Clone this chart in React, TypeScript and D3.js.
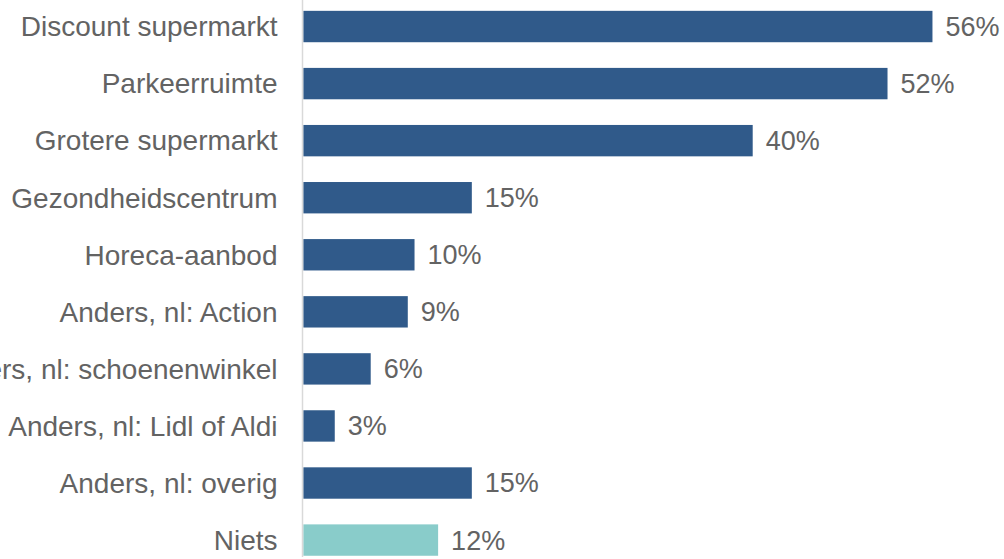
import React from "react";
import * as d3 from "d3";

const categories = [
  "Discount supermarkt",
  "Parkeerruimte",
  "Grotere supermarkt",
  "Gezondheidscentrum",
  "Horeca-aanbod",
  "Anders, nl: Action",
  "Anders, nl: schoenenwinkel",
  "Anders, nl: Lidl of Aldi",
  "Anders, nl: overig",
  "Niets",
];
const values = [56, 52, 40, 15, 9.9, 9.3, 6, 2.8, 15, 12];
const valueLabels = ["56%", "52%", "40%", "15%", "10%", "9%", "6%", "3%", "15%", "12%"];
const highlight = ["Niets"];

const W = 1004;
const H = 559;
const axisX = 302.5;
const barX0 = 303.3;
const FONT = "'Liberation Sans', Arial, Helvetica, sans-serif";
const TEXT = "#636363";
const DARK = "#305A8A";
const TEAL = "#89CCCA";

export default function App() {
  const x = d3.scaleLinear().domain([0, 40]).range([barX0, barX0 + 449.4]);
  const y = d3
    .scaleBand<string>()
    .domain(categories)
    .range([-2, 568.6])
    .paddingInner(0.45)
    .paddingOuter(0.225);

  return (
    <svg
      width={W}
      height={H}
      style={{ position: "absolute", left: 0, top: 0, background: "#fff" }}
      fontFamily={FONT}
    >
      {categories.map((c, i) => {
        const yc = (y(c) as number) + y.bandwidth() / 2;
        return (
          <g key={c}>
            <rect
              x={x(0)}
              y={y(c)}
              width={x(values[i]) - x(0)}
              height={y.bandwidth()}
              fill={highlight.includes(c) ? TEAL : DARK}
            />
            <text
              x={axisX - 25}
              y={yc}
              dy="0.35em"
              textAnchor="end"
              fontSize={28}
              fill={TEXT}
            >
              {c}
            </text>
            <text
              x={x(values[i]) + 13}
              y={yc}
              dy="0.35em"
              textAnchor="start"
              fontSize={27}
              fill={TEXT}
            >
              {valueLabels[i]}
            </text>
          </g>
        );
      })}
      <line x1={axisX} x2={axisX} y1={0} y2={557} stroke="#D9D9D9" strokeWidth={1.5} />
    </svg>
  );
}
